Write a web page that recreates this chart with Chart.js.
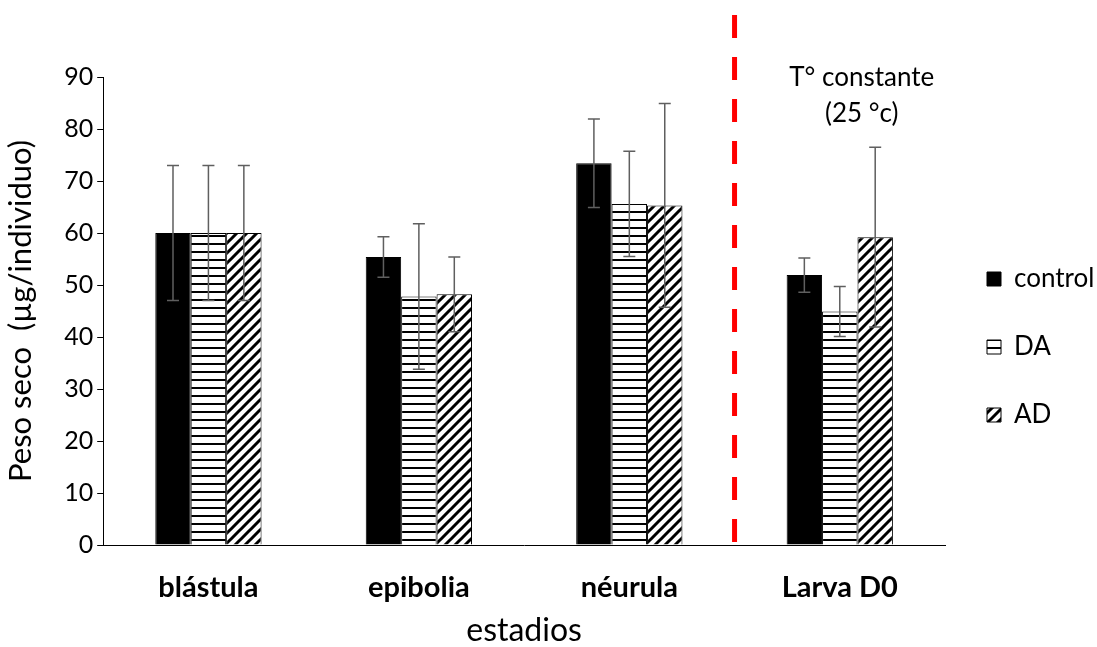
<!DOCTYPE html>
<html>
<head>
<meta charset="utf-8">
<script src="https://cdn.jsdelivr.net/npm/chart.js@4.4.0/dist/chart.umd.min.js"></script>
<style>
  html, body { margin: 0; padding: 0; background: #fff; }
  #wrap { width: 1097px; height: 647px; }
</style>
</head>
<body>
<div id="wrap"><canvas id="pesoChart" width="1097" height="647"></canvas></div>
<script>
// data
const stages = ['blástula', 'epibolia', 'néurula', 'Larva D0'];
const controlValues = [60, 55.4, 73.4, 51.9];
const controlErrors = [13, 3.9, 8.5, 3.3];
const daValues = [60, 47.8, 65.6, 44.9];
const daErrors = [13, 14, 10.1, 4.8];
const adValues = [60, 48.2, 65.3, 59.2];
const adErrors = [13, 7.2, 19.6, 17.3];
const yMin = 0, yMax = 90, yStep = 10;
const noteLines = ['T° constante', '(25 °c)'];

const FONT = 'Lato, "Open Sans", sans-serif';
const canvas = document.getElementById('pesoChart');
const mainCtx = canvas.getContext('2d');

function hatch(kind) {
    const c = document.createElement('canvas');
    const ctx = c.getContext('2d');
    if (kind === 'horizontal') {
        c.width = 8; c.height = 8;
        ctx.fillStyle = '#fff';
        ctx.fillRect(0, 0, 8, 8);
        ctx.fillStyle = '#000';
        ctx.fillRect(0, 3, 8, 2);
    } else {
        c.width = 10; c.height = 10;
        ctx.fillStyle = '#fff';
        ctx.fillRect(0, 0, 10, 10);
        ctx.strokeStyle = '#000';
        ctx.lineWidth = 3;
        ctx.beginPath();
        ctx.moveTo(-2, 12); ctx.lineTo(12, -2);
        ctx.moveTo(-2, 2); ctx.lineTo(2, -2);
        ctx.moveTo(8, 12); ctx.lineTo(12, 8);
        ctx.stroke();
    }
    return mainCtx.createPattern(c, 'repeat');
}

const errors = [controlErrors, daErrors, adErrors];

// error bars drawn through the chart's own scales
const errorBars = {
    id: 'errorBars',
    afterDatasetsDraw(chart) {
        const ctx = chart.ctx;
        const y = chart.scales.y;
        ctx.save();
        ctx.strokeStyle = '#5f5f5f';
        ctx.lineWidth = 1.5;
        chart.data.datasets.forEach((ds, i) => {
            const meta = chart.getDatasetMeta(i);
            meta.data.forEach((bar, j) => {
                const v = ds.data[j], e = errors[i][j];
                const top = y.getPixelForValue(v + e);
                const bot = y.getPixelForValue(v - e);
                ctx.beginPath();
                ctx.moveTo(bar.x, top); ctx.lineTo(bar.x, bot);
                ctx.moveTo(bar.x - 6, top); ctx.lineTo(bar.x + 6, top);
                ctx.moveTo(bar.x - 6, bot); ctx.lineTo(bar.x + 6, bot);
                ctx.stroke();
            });
        });
        ctx.restore();
    }
};

// red dashed separator and note
const separator = {
    id: 'separator',
    afterDraw(chart) {
        const ctx = chart.ctx;
        const x = chart.scales.x.getPixelForValue(2.5);
        const bottom = chart.chartArea.bottom;
        ctx.save();
        ctx.strokeStyle = '#ff0000';
        ctx.lineWidth = 5;
        ctx.setLineDash([23, 19]);
        ctx.beginPath();
        ctx.moveTo(x, 15);
        ctx.lineTo(x, bottom);
        ctx.stroke();
        ctx.setLineDash([]);
        ctx.fillStyle = '#000';
        ctx.font = '26px ' + FONT;
        ctx.textAlign = 'center';
        ctx.textBaseline = 'middle';
        const tx = chart.scales.x.getPixelForValue(3) + 22;
        const ty = chart.scales.y.getPixelForValue(yMax);
        ctx.fillText(noteLines[0], tx, ty + 1);
        ctx.fillText(noteLines[1], tx, ty + 37);
        ctx.restore();
    }
};

// nudge the legend block up a little, like the original
const legendNudge = {
    id: 'legendNudge',
    afterLayout(chart) {
        chart.legend.top -= 15;
        chart.legend.bottom -= 15;
    }
};

new Chart(canvas, {
    type: 'bar',
    data: {
        labels: stages,
        datasets: [{
            label: 'control',
            data: controlValues,
            backgroundColor: '#000',
            borderColor: '#000',
            borderWidth: 1
        }, {
            label: 'DA',
            data: daValues,
            backgroundColor: hatch('horizontal'),
            borderColor: '#000',
            borderWidth: 1
        }, {
            label: 'AD',
            data: adValues,
            backgroundColor: hatch('diagonal'),
            borderColor: '#000',
            borderWidth: 1
        }]
    },
    options: {
        responsive: false,
        animation: false,
        layout: { padding: { top: 77, right: 0, left: 2, bottom: 0 } },
        datasets: {
            bar: { categoryPercentage: 0.505, barPercentage: 1 }
        },
        scales: {
            x: {
                afterFit(scale) { scale.height = 102; },
                grid: { display: false, drawTicks: false },
                border: { color: '#000', width: 1 },
                ticks: { color: '#000', padding: 28, font: { family: FONT, size: 29, weight: 'bold', lineHeight: 1 } },
                title: { display: true, text: 'estadios', color: '#000', padding: { top: 0, bottom: 0 }, font: { family: FONT, size: 32, lineHeight: 1 } }
            },
            y: {
                min: yMin, max: yMax,
                grid: { drawOnChartArea: false, drawTicks: true, tickLength: 6, color: '#000' },
                border: { color: '#000', width: 1 },
                ticks: { stepSize: yStep, color: '#000', padding: 4, font: { family: FONT, size: 25 } },
                title: { display: true, text: 'Peso seco  (µg/individuo)', color: '#000', padding: { top: 0, bottom: 21 }, font: { family: FONT, size: 31 } }
            }
        },
        plugins: {
            legend: {
                position: 'right',
                align: 'center',
                maxWidth: 152,
                labels: {
                    color: '#000',
                    boxWidth: 14,
                    boxHeight: 14,
                    padding: 42,
                    font: { family: FONT, size: 26 }
                }
            },
            tooltip: { enabled: false }
        }
    },
    plugins: [errorBars, separator, legendNudge]
});
</script>
</body>
</html>
